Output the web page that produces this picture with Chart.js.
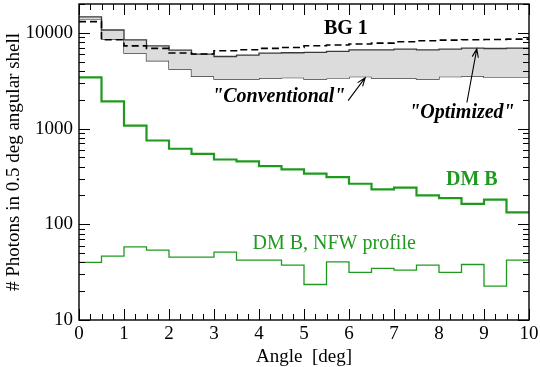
<!DOCTYPE html>
<html>
<head>
<meta charset="utf-8">
<script src="https://cdn.jsdelivr.net/npm/chart.js@4.4.1/dist/chart.umd.min.js"></script>
<style>
  html, body { margin: 0; padding: 0; background: #fff; }
  #wrap { width: 540px; height: 367px; }
</style>
</head>
<body>
<div id="wrap"><canvas id="chart"></canvas></div>
<script>
// bin edges (0.5 deg shells) and read-off counts per bin
const binEdges = [0, 0.5, 1, 1.5, 2, 2.5, 3, 3.5, 4, 4.5, 5, 5.5, 6, 6.5, 7, 7.5, 8, 8.5, 9, 9.5, 10];
const bg1 = [13100, 8450, 7300, 6870, 6150, 6000, 6490, 6650, 6870, 7030, 7320, 7450, 7630, 7810, 8060, 8250, 8390, 8450, 8510, 8600];
const optimized = [14700, 10700, 8450, 7300, 6600, 6000, 5660, 5860, 6150, 6190, 6240, 6390, 6650, 6650, 6760, 6650, 6760, 6930, 6860, 6930];
const conventional = [13800, 8600, 6150, 5110, 4190, 3510, 3290, 3290, 3370, 3400, 3290, 3340, 3480, 3370, 3370, 3290, 3480, 3540, 3420, 3420];
const dmB = [3420, 1925, 1075, 750, 615, 545, 475, 453, 405, 374, 338, 311, 265, 232, 241, 200, 188, 163, 181, 133];
const dmBNfw = [40, 46.4, 58, 53.6, 45.3, 45.3, 51.1, 42.2, 42.2, 37.4, 23.5, 40.5, 31.4, 34.6, 33.2, 37.4, 31.4, 38, 22.6, 42.2];
const xTicks = [0, 1, 2, 3, 4, 5, 6, 7, 8, 9, 10];
const yTicks = [10, 100, 1000, 10000];

const serif = "'Liberation Serif', 'Times New Roman', serif";
const green = '#1f9a1f';

// histogram -> step points (value holds until next edge)
const toSteps = vals => vals.map((v, i) => ({ x: binEdges[i], y: v }))
  .concat([{ x: binEdges[binEdges.length - 1], y: vals[vals.length - 1] }]);

// text labels and arrows, placed in data coordinates
const notes = [
  { text: 'BG 1', x: 5.93, y: 11000, font: 'bold 20px ' + serif, color: '#000' },
  { text: '"Conventional"', x: 4.44, y: 2150, font: 'italic bold 20px ' + serif, color: '#000' },
  { text: '"Optimized"', x: 8.51, y: 1470, font: 'italic bold 20px ' + serif, color: '#000' },
  { text: 'DM B', x: 8.73, y: 294, font: 'bold 20px ' + serif, color: green },
  { text: 'DM B, NFW profile', x: 5.67, y: 62, font: '20px ' + serif, color: green }
];
const arrows = [
  { from: [5.98, 1960], to: [6.36, 3400] },
  { from: [8.62, 1870], to: [8.84, 6800] }
];

const frameAndNotes = {
  id: 'frameAndNotes',
  afterDraw(chart) {
    const { ctx, chartArea: a, scales: { x, y } } = chart;
    ctx.save();
    ctx.strokeStyle = '#000';
    ctx.lineWidth = 1.4;
    ctx.strokeRect(a.left, a.top, a.right - a.left, a.bottom - a.top);

    // inward ticks, x: major each 1, minor each 0.25
    ctx.lineWidth = 1;
    ctx.beginPath();
    for (let t = 0; t <= 40; t++) {
      const px = Math.round(x.getPixelForValue(t * 0.25)) + 0.5;
      const len = t % 4 === 0 ? 11 : 6;
      ctx.moveTo(px, a.bottom); ctx.lineTo(px, a.bottom - len);
      ctx.moveTo(px, a.top); ctx.lineTo(px, a.top + len);
    }
    // y: decades and 2..9 minors
    yTicks.forEach(d => {
      for (let m = 1; m <= 9; m++) {
        const v = d * m;
        if (v > y.max) break;
        const py = Math.round(y.getPixelForValue(v)) + 0.5;
        const len = m === 1 ? 11 : 6;
        ctx.moveTo(a.left, py); ctx.lineTo(a.left + len, py);
        ctx.moveTo(a.right, py); ctx.lineTo(a.right - len, py);
      }
    });
    ctx.stroke();

    // arrows
    ctx.lineWidth = 1.1;
    arrows.forEach(ar => {
      const x0 = x.getPixelForValue(ar.from[0]), y0 = y.getPixelForValue(ar.from[1]);
      const x1 = x.getPixelForValue(ar.to[0]), y1 = y.getPixelForValue(ar.to[1]);
      const ang = Math.atan2(y1 - y0, x1 - x0);
      ctx.beginPath();
      ctx.moveTo(x0, y0); ctx.lineTo(x1, y1);
      ctx.moveTo(x1 - 9 * Math.cos(ang - 0.35), y1 - 9 * Math.sin(ang - 0.35));
      ctx.lineTo(x1, y1);
      ctx.lineTo(x1 - 9 * Math.cos(ang + 0.35), y1 - 9 * Math.sin(ang + 0.35));
      ctx.stroke();
    });

    // labels
    ctx.textAlign = 'center';
    ctx.textBaseline = 'middle';
    notes.forEach(n => {
      ctx.font = n.font;
      ctx.fillStyle = n.color;
      ctx.fillText(n.text, x.getPixelForValue(n.x), y.getPixelForValue(n.y));
    });
    ctx.restore();
  }
};

new Chart(document.getElementById('chart'), {
  type: 'line',
  data: {
    datasets: [
      { label: 'BG 1', data: toSteps(bg1), stepped: 'before', borderColor: '#000', borderWidth: 1.6, borderDash: [7, 4], pointRadius: 0, fill: false },
      { label: 'Optimized', data: toSteps(optimized), stepped: 'before', borderColor: '#3a3a3a', borderWidth: 1.3, pointRadius: 0, fill: { target: 2 }, backgroundColor: '#dcdcdc' },
      { label: 'Conventional', data: toSteps(conventional), stepped: 'before', borderColor: '#3a3a3a', borderWidth: 1.3, pointRadius: 0, fill: false },
      { label: 'DM B', data: toSteps(dmB), stepped: 'before', borderColor: green, borderWidth: 2.2, pointRadius: 0, fill: false },
      { label: 'DM B, NFW profile', data: toSteps(dmBNfw), stepped: 'before', borderColor: green, borderWidth: 1.3, pointRadius: 0, fill: false }
    ]
  },
  options: {
    responsive: true,
    maintainAspectRatio: false,
    animation: false,
    layout: { padding: { top: 4, right: 11, left: 0, bottom: 0 } },
    plugins: { legend: { display: false }, tooltip: { enabled: false } },
    scales: {
      x: {
        type: 'linear', min: 0, max: 10,
        grid: { display: false, drawTicks: false },
        border: { display: false },
        afterBuildTicks: s => { s.ticks = xTicks.map(v => ({ value: v })); },
        ticks: { padding: 3, color: '#000', font: { family: serif, size: 19 } },
        title: { display: true, text: 'Angle  [deg]', color: '#000', padding: 0, font: { family: serif, size: 19, lineHeight: 1 } },
        afterFit: s => { s.height = 47; s.paddingLeft = 0; s.paddingRight = 0; }
      },
      y: {
        type: 'logarithmic', min: 10, max: 20000,
        grid: { display: false, drawTicks: false },
        border: { display: false },
        afterBuildTicks: s => { s.ticks = yTicks.map(v => ({ value: v })); },
        ticks: { padding: 6, color: '#000', font: { family: serif, size: 19 }, callback: v => String(v) },
        title: { display: true, text: '# Photons in 0.5 deg angular shell', color: '#000', padding: { top: 5, bottom: 0 }, font: { family: serif, size: 19, lineHeight: 1 } },
        afterFit: s => { s.width = 79; s.paddingTop = 0; s.paddingBottom = 0; }
      }
    }
  },
  plugins: [frameAndNotes]
});
</script>
</body>
</html>
